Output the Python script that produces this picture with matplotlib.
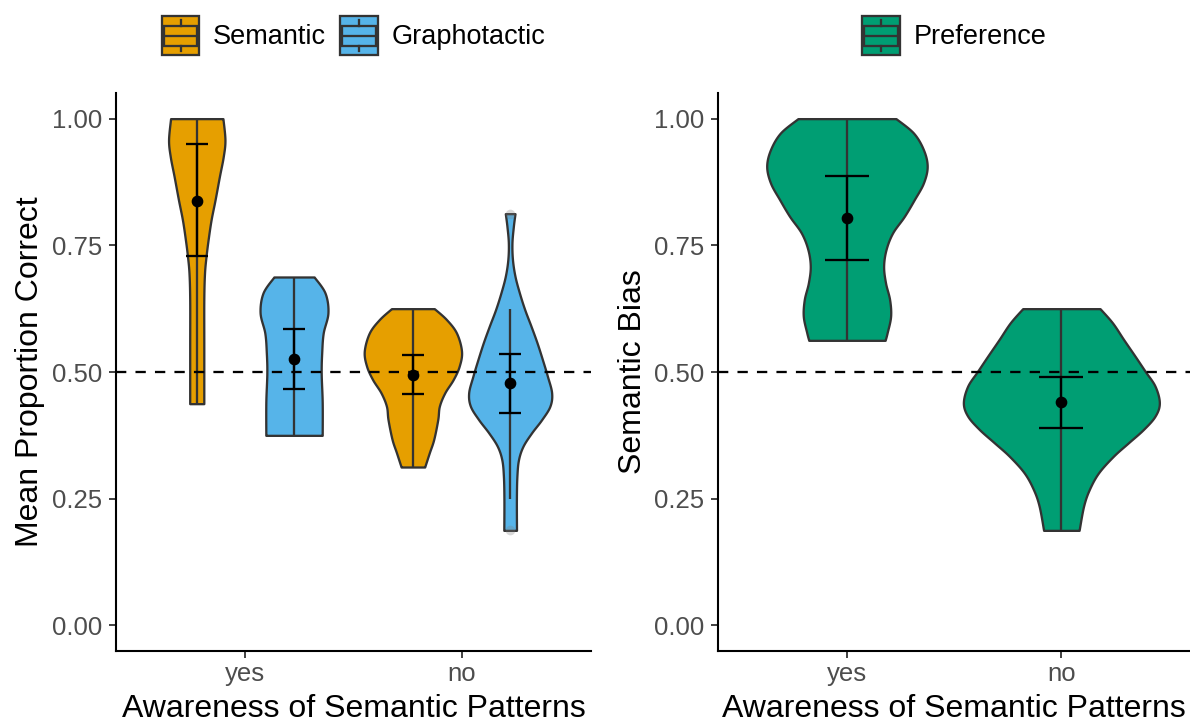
import numpy as np
import matplotlib
matplotlib.use("Agg")
import matplotlib.pyplot as plt
from matplotlib.legend_handler import HandlerBase
from matplotlib.patches import Rectangle, Patch
from matplotlib.lines import Line2D

plt.rcParams['font.family'] = ['Liberation Sans', 'DejaVu Sans']

# ---------------------------------------------------------------- data
categories = ["yes", "no"]

# Density profiles of each violin: value grid and relative density
sem_yes_y = [1.0, 0.958, 0.925, 0.886, 0.84, 0.80, 0.76, 0.728, 0.695, 0.643, 0.55, 0.4375]
sem_yes_d = [26, 28, 26.3, 22.5, 18.2, 14.2, 11.2, 9.2, 7.7, 7.0, 7.0, 7.0]
sem_no_y = [0.625, 0.6036, 0.577, 0.541, 0.5115, 0.485, 0.459, 0.4326, 0.406, 0.367, 0.3406, 0.3125]
sem_no_d = [21.3, 33.3, 43.3, 48.3, 46, 40, 31.7, 26.3, 24.7, 20.7, 16.3, 11.7]

gra_yes_y = [0.6875, 0.656, 0.617, 0.577, 0.538, 0.498, 0.44, 0.375]
gra_yes_d = [20, 30.8, 33.7, 29, 27.5, 27, 28, 28]
gra_no_y = [0.8125, 0.7876, 0.755, 0.722, 0.689, 0.656, 0.623, 0.590, 0.5576, 0.5247,
            0.4917, 0.459, 0.4326, 0.406, 0.38, 0.3537, 0.327, 0.2945, 0.2485, 0.1875]
gra_no_d = [4.8, 3.2, 1.8, 2.3, 4.8, 9.2, 14.5, 20.8, 26.7, 32,
            37, 41.2, 39.5, 31.3, 21.3, 12.8, 8.3, 6.7, 6.2, 6.3]

pref_yes_y = [1.0, 0.9718, 0.9389, 0.906, 0.873, 0.840, 0.807, 0.7745, 0.7416, 0.7087,
              0.6759, 0.643, 0.61, 0.5773, 0.5625]
pref_yes_d = [49.2, 66.7, 76.7, 80.5, 76.7, 67.5, 57.5, 45.8, 39.2, 36.8,
              38.7, 42.8, 43.8, 40.3, 38.3]
pref_no_y = [0.625, 0.597, 0.564, 0.531, 0.5016, 0.472, 0.4392, 0.413, 0.3866, 0.3604,
             0.334, 0.301, 0.268, 0.2353, 0.1875]
pref_no_d = [38.8, 51.3, 62.5, 74, 84, 94, 98.3, 94, 82.3, 67.3,
             52.3, 37.3, 28, 22.3, 17.8]

# Means with interval limits (yes, no)
sem_mean = [0.838, 0.495]
sem_lo = [0.728, 0.4556]
sem_hi = [0.949, 0.5345]
gra_mean = [0.526, 0.4786]
gra_lo = [0.467, 0.4195]
gra_hi = [0.585, 0.536]
pref_mean = [0.804, 0.4405]
pref_lo = [0.7206, 0.390]
pref_hi = [0.8876, 0.4905]

# Whisker ranges and outliers
sem_whisk_lo = [0.4375, 0.3125]
sem_whisk_hi = [1.0, 0.625]
gra_whisk_lo = [0.375, 0.25]
gra_whisk_hi = [0.6875, 0.625]
pref_whisk_lo = [0.5625, 0.1875]
pref_whisk_hi = [1.0, 0.625]
gra_no_outliers = [0.8125, 0.1875]

chance_level = 0.5

# ---------------------------------------------------------------- style
C_SEM = "#E69F00"
C_GRA = "#56B4E9"
C_PREF = "#009E73"
EDGE = "#333333"
LW = 1.65
TICK_COLOR = "#4D4D4D"


def catmull_rom(pts, n=12):
    pts = np.asarray(pts, float)
    p = np.vstack([pts[0], pts, pts[-1]])
    out = []
    t = np.linspace(0, 1, n, endpoint=False)[:, None]
    for i in range(1, len(p) - 2):
        p0, p1, p2, p3 = p[i - 1], p[i], p[i + 1], p[i + 2]
        seg = 0.5 * ((2 * p1) + (-p0 + p2) * t + (2 * p0 - 5 * p1 + 4 * p2 - p3) * t ** 2
                     + (-p0 + 3 * p1 - 3 * p2 + p3) * t ** 3)
        out.append(seg)
    out.append(pts[-1][None, :])
    return np.vstack(out)


def violin(ax, center, ys, dens, scale, color):
    curve = catmull_rom(np.column_stack([ys, dens]))
    y = curve[:, 0]
    w = np.clip(curve[:, 1], 0, None) * scale
    ax.fill_betweenx(y, center - w, center + w, facecolor=color, edgecolor=EDGE,
                     linewidth=LW, zorder=2)


def style_axes(ax, ylabel):
    ax.set_xlim(0.4, 2.6)
    ax.set_ylim(-0.05, 1.05)
    ax.set_xticks([1, 2])
    ax.set_xticklabels(categories)
    ax.set_yticks([0, 0.25, 0.5, 0.75, 1.0])
    ax.set_yticklabels(["0.00", "0.25", "0.50", "0.75", "1.00"])
    for s in ("top", "right"):
        ax.spines[s].set_visible(False)
    for s in ("left", "bottom"):
        ax.spines[s].set_linewidth(1.5)
        ax.spines[s].set_color("black")
    ax.tick_params(axis="both", labelsize=18.5, labelcolor=TICK_COLOR, length=5,
                   width=1.3, color=EDGE)
    ax.tick_params(axis="y", pad=5)
    ax.tick_params(axis="x", pad=3)
    ax.set_xlabel("Awareness of Semantic Patterns", fontsize=23, va="baseline")
    ax.xaxis.set_label_coords(0.5, -0.1184)
    ax.set_ylabel(ylabel, fontsize=23, va="baseline")
    ax.yaxis.set_label_coords(-0.163, 0.5)
    ax.axhline(chance_level, color="black", linestyle=(0, (4.5, 4)), linewidth=LW, zorder=6)


class BoxKeyHandler(HandlerBase):
    def create_artists(self, legend, orig_handle, xdescent, ydescent, width, height,
                       fontsize, trans):
        fc = orig_handle.get_facecolor()
        x0, y0 = -xdescent, -ydescent
        bg = Rectangle((x0, y0), width, height, facecolor=fc, edgecolor=EDGE, lw=LW,
                       transform=trans)
        box = Rectangle((x0 + 0.06 * width, y0 + 0.24 * height), 0.88 * width,
                        0.50 * height, facecolor=fc, edgecolor=EDGE, lw=LW, transform=trans)
        med = Line2D([x0 + 0.06 * width, x0 + 0.94 * width], [y0 + 0.49 * height] * 2,
                     color=EDGE, lw=LW, transform=trans)
        wl = Line2D([x0 + width / 2] * 2, [y0 + 0.1 * height, y0 + 0.24 * height],
                    color=EDGE, lw=LW, transform=trans)
        wh = Line2D([x0 + width / 2] * 2, [y0 + 0.74 * height, y0 + 0.9 * height],
                    color=EDGE, lw=LW, transform=trans)
        return [bg, box, med, wl, wh]


def add_legend(ax, labels, colors):
    handles = [Patch(facecolor=c, label=l) for l, c in zip(labels, colors)]
    ax.legend(handles=handles, loc="center", bbox_to_anchor=(0.5, 1.1037),
              ncol=len(handles), frameon=False, fontsize=19.5, handlelength=1.40,
              handleheight=1.84, handletextpad=0.5, columnspacing=0.52,
              borderpad=0, borderaxespad=0,
              handler_map={Patch: BoxKeyHandler()})


def summaries(ax, xs, mean, lo, hi, wlo, whi, capsize):
    ax.vlines(xs, wlo, whi, color=EDGE, linewidth=LW, zorder=3)
    mean = np.asarray(mean)
    yerr = [mean - np.asarray(lo), np.asarray(hi) - mean]
    ax.errorbar(xs, mean, yerr=yerr, fmt="none", ecolor="black", elinewidth=LW,
                capsize=capsize, capthick=LW, zorder=4)
    ax.plot(xs, mean, "o", color="black", markersize=7.4, zorder=5)


fig = plt.figure(figsize=(11.9, 7.22), dpi=100)
ax1 = fig.add_axes([115.7 / 1190, 1 - 650.7 / 722, 475.5 / 1190, 557.4 / 722])
ax2 = fig.add_axes([718.3 / 1190, 1 - 650.7 / 722, 471.7 / 1190, 557.4 / 722])

pos = np.arange(1, len(categories) + 1)
dodge = 0.225

# Left panel: accuracy by task
left_max = max(max(sem_yes_d), max(sem_no_d), max(gra_yes_d), max(gra_no_d))
lscale = 0.225 / left_max
violin(ax1, pos[0] - dodge, sem_yes_y, sem_yes_d, lscale, C_SEM)
violin(ax1, pos[1] - dodge, sem_no_y, sem_no_d, lscale, C_SEM)
violin(ax1, pos[0] + dodge, gra_yes_y, gra_yes_d, lscale, C_GRA)
violin(ax1, pos[1] + dodge, gra_no_y, gra_no_d, lscale, C_GRA)
summaries(ax1, pos - dodge, sem_mean, sem_lo, sem_hi, sem_whisk_lo, sem_whisk_hi, 7.9)
summaries(ax1, pos + dodge, gra_mean, gra_lo, gra_hi, gra_whisk_lo, gra_whisk_hi, 7.9)
ax1.plot([pos[1] + dodge] * len(gra_no_outliers), gra_no_outliers, "o", color="grey",
         alpha=0.3, markersize=7, markeredgewidth=0, zorder=3.5)
style_axes(ax1, "Mean Proportion Correct")
add_legend(ax1, ["Semantic", "Graphotactic"], [C_SEM, C_GRA])

# Right panel: semantic preference
right_max = max(max(pref_yes_d), max(pref_no_d))
rscale = 0.457 / right_max
violin(ax2, pos[0], pref_yes_y, pref_yes_d, rscale, C_PREF)
violin(ax2, pos[1], pref_no_y, pref_no_d, rscale, C_PREF)
summaries(ax2, pos, pref_mean, pref_lo, pref_hi, pref_whisk_lo, pref_whisk_hi, 15.5)
style_axes(ax2, "Semantic Bias")
add_legend(ax2, ["Preference"], [C_PREF])

fig.savefig("out.png", dpi=100)
